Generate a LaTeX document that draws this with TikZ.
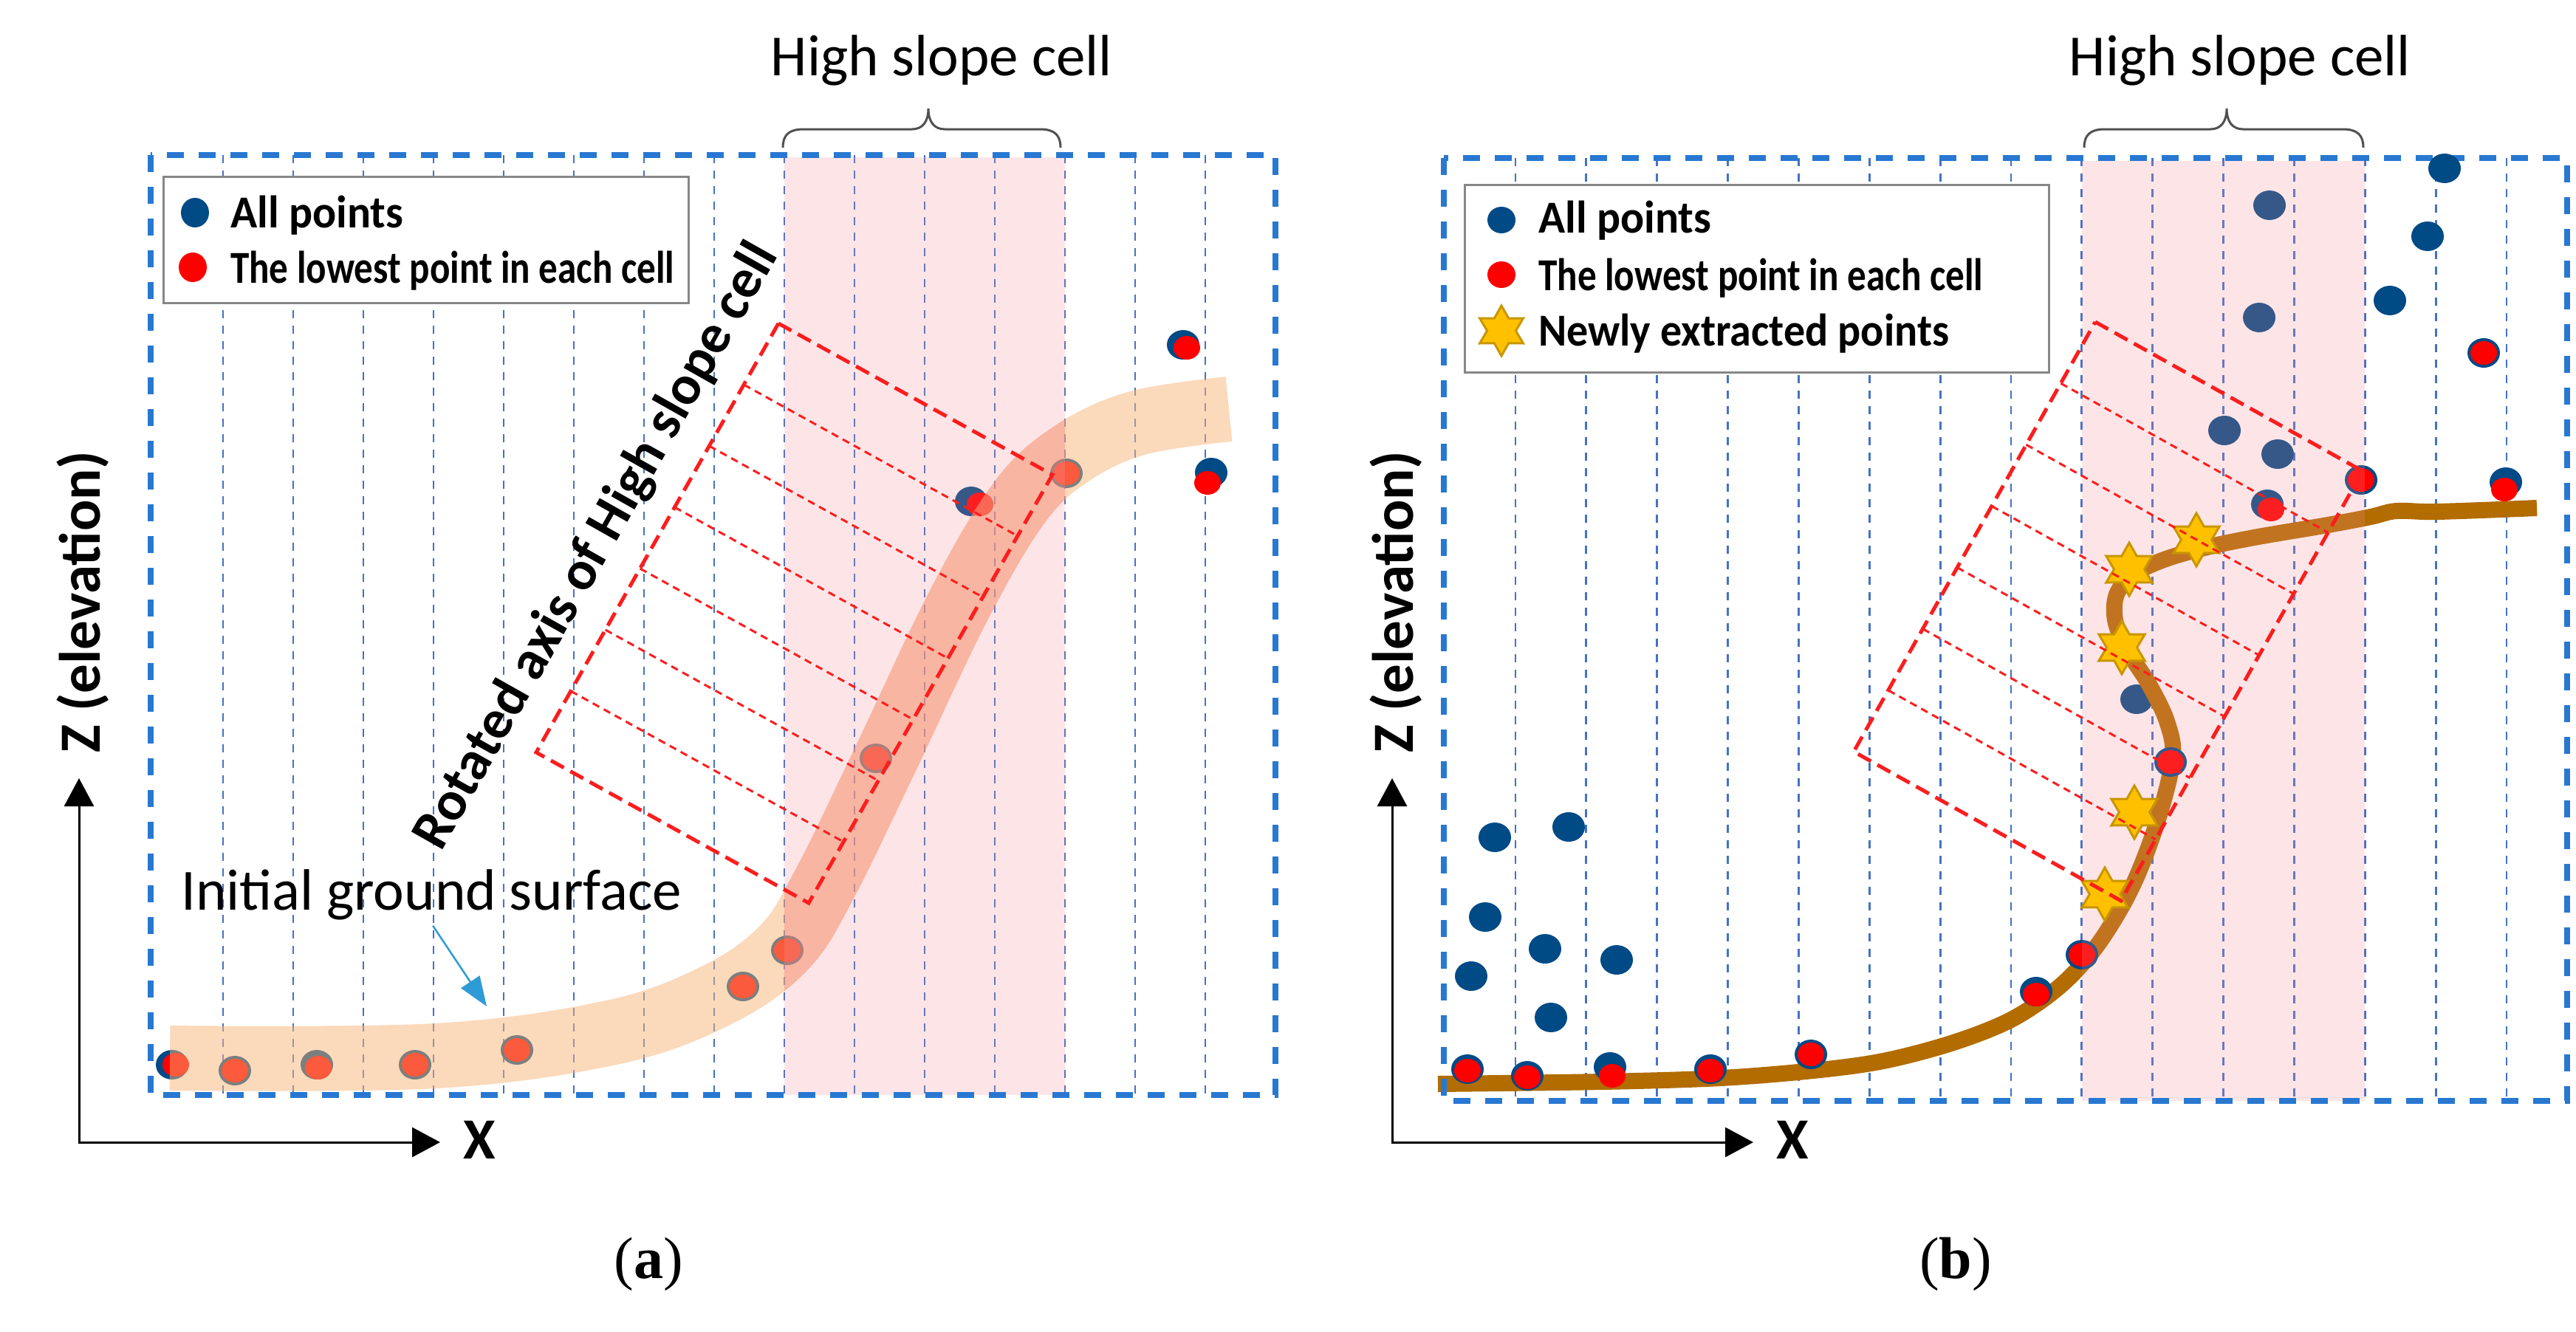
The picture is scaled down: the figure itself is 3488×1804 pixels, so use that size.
\documentclass[tikz,border=0pt]{standalone}
\usepackage{fontspec}
\usepackage{graphicx}
\setmainfont{Carlito}
\newfontfamily\capfont{Liberation Serif}
\usetikzlibrary{arrows.meta,shapes.geometric,calc}

\definecolor{boxblue}{RGB}{40,120,210}
\definecolor{lineblue}{RGB}{68,114,196}
\definecolor{pinkc}{RGB}{250,140,150}
\definecolor{ptblue}{RGB}{0,74,134}
\definecolor{ptred}{RGB}{255,0,0}
\definecolor{bandc}{RGB}{249,180,120}
\definecolor{salmonc}{RGB}{240,110,95}
\definecolor{brownc}{RGB}{178,108,0}
\definecolor{starfill}{RGB}{255,192,0}
\definecolor{stardraw}{RGB}{200,150,0}
\definecolor{rectred}{RGB}{250,30,30}
\definecolor{arrowblue}{RGB}{46,155,214}
\definecolor{bracec}{RGB}{80,80,80}
\definecolor{leggray}{RGB}{135,135,135}

\tikzset{
  cellline/.style={lineblue, line width=2.8pt, dash pattern=on 11pt off 10pt},
  boxline/.style={boxblue, line width=8pt, dash pattern=on 23pt off 20pt},
  pinkarea/.style={fill=pinkc, fill opacity=0.22},
  rectthick/.style={rectred, line width=5pt, dash pattern=on 20pt off 10pt},
  rectthin/.style={rectred, line width=3pt, dash pattern=on 10pt off 7pt},
  bandline/.style={bandc, opacity=0.5, line width=88pt, line cap=butt, line join=round},
  bandtint/.style={salmonc, opacity=0.22, line width=88pt, line cap=butt, line join=round},
  curveline/.style={brownc, line width=22pt, line cap=butt, line join=round},
  axisline/.style={black, line width=3pt, arrows={Triangle[length=38pt,width=40pt]-Triangle[length=38pt,width=40pt]}},
  garrow/.style={arrowblue, line width=2.5pt, -{Triangle[length=40pt,width=30pt]}},
  bracel/.style={draw=bracec, line width=3pt},
  legbox/.style={draw=leggray, line width=3pt, fill=white},
  newpt/.style={star, star points=6, star point ratio=1.75, minimum size=72pt, inner sep=0pt, fill=starfill, draw=stardraw, line width=3pt},
  plain/.style={inner sep=0pt, font=\fontsize{79}{95}\selectfont},
  boldlbl/.style={inner sep=0pt, font=\bfseries\fontsize{79}{95}\selectfont},
  legtxt/.style={inner sep=0pt, anchor=base west, font=\bfseries\fontsize{62}{70}\selectfont},
  captxt/.style={inner sep=0pt, font=\capfont\fontsize{80}{96}\selectfont}
}

\newcommand{\bluedot}[2]{\fill[ptblue] (#1,#2) ellipse [x radius=22pt, y radius=20pt];}
\newcommand{\lowdot}[4]{\fill[ptblue] (#1,#2) ellipse [x radius=22pt, y radius=20pt];
  \fill[ptred] ({#1+(#3)},{#2+(#4)}) ellipse [x radius=18pt, y radius=16pt];}
\newcommand{\hbrace}[3]{\draw[bracel] (#1,200) .. controls (#1,183) and (#1+8,175) .. (#1+28,175) -- (#2-22,175) .. controls (#2-8,175) and (#2,165) .. (#2,147) .. controls (#2,165) and (#2+8,175) .. (#2+22,175) -- (#3-28,175) .. controls (#3-8,175) and (#3,183) .. (#3,200);}
\newcommand{\bandpath}{plot[smooth, tension=0.6] coordinates {(230,1433) (590,1430) (830,1398) (970,1348) (1060,1285) (1115,1200) (1198,1030) (1298,820) (1380,681) (1450,615) (1540,573) (1664,554)}}

\begin{document}
\begin{tikzpicture}[x=1pt, y=-1pt]
\useasboundingbox (0,0) rectangle (3488,1804);
\fill[white] (0,0) rectangle (3488,1804);

% ================= PANEL (a) =================
\foreach \i in {1,...,15} \draw[cellline] ({207+95*\i},210) -- ({207+95*\i},1483);

% points
\lowdot{233}{1442}{5}{0}
\lowdot{318}{1450}{0}{0}
\lowdot{429}{1442}{2}{4}
\lowdot{562}{1442}{0}{0}
\lowdot{700}{1422}{0}{0}
\lowdot{1006}{1336}{0}{0}
\lowdot{1066}{1287}{0}{0}
\lowdot{1186}{1027}{0}{0}
\lowdot{1315}{679}{12}{4}
\lowdot{1444}{641}{0}{0}
\lowdot{1602}{467}{5}{4}
\lowdot{1640}{640}{-5}{14}

% initial ground surface band
\draw[bandline] \bandpath;
\begin{scope}
  \clip (1062,213) rectangle (1442,1483);
  \draw[bandtint] \bandpath;
\end{scope}

% high slope cells
\fill[pinkarea] (1062,213) rectangle (1442,1483);

% rotated cell
\coordinate (aT) at (1054,438);
\coordinate (aR) at (1425,643);
\coordinate (aB) at (1095,1223);
\coordinate (aL) at (726,1019);
\foreach \k in {1,...,6} \draw[rectthin] ($(aT)!\k/7!(aL)$) -- ($(aR)!\k/7!(aB)$);
\draw[rectthick] (aT) -- (aR) -- (aB) -- (aL) -- cycle;

\draw[boxline] (204,210) rectangle (1727,1483);

% legend (a)
\draw[legbox] (221,239) rectangle (932,410);
\fill[ptblue] (264,288) ellipse [x radius=19pt, y radius=20pt];
\fill[ptred] (261,362) ellipse [x radius=19pt, y radius=20pt];
\node[legtxt] (la1) at (312,308) {\resizebox{234pt}{\height}{All points}};
\node[legtxt] (la2) at (312,383) {\resizebox{601pt}{\height}{The lowest point in each cell}};

% brace and labels
\hbrace{1060}{1257}{1436}
\node[plain, anchor=base] (hsa) at (1275,102) {High slope cell};
\node[boldlbl, anchor=base, rotate=60.56, font=\bfseries\fontsize{75}{90}\selectfont] (rot) at (826,750) {Rotated axis of High slope cell};
\node[plain, anchor=base west] (igs) at (245,1232) {Initial ground surface};
\coordinate (igtip) at (659,1363);
\draw[garrow] ($(igs.south)+(2,8)$) -- (igtip);

% axes (a)
\coordinate (aO) at (107,1547);
\coordinate (aZ) at (107,1054);
\coordinate (aX) at (596,1547);
\draw[axisline] (aZ) -- (aO) -- (aX);
\node[boldlbl, rotate=90] (za) at (112,815) {Z (elevation)};
\node[boldlbl] (xa) at (649,1544) {X};
\node[captxt] (capa) at (878,1712) {(\textbf{a})};

% ================= PANEL (b) =================
\foreach \i in {1,...,15} \draw[cellline] ({1956.1+95.86*\i},214) -- ({1956.1+95.86*\i},1491);

% all points
\bluedot{3073}{278}
\bluedot{3287}{320}
\bluedot{3236}{407}
\bluedot{3059}{430}
\bluedot{3012}{583}
\bluedot{3084}{615}
\bluedot{2893}{947}
\bluedot{2024}{1134}
\bluedot{2124}{1120}
\bluedot{2011}{1242}
\bluedot{2092}{1285}
\bluedot{1992}{1322}
\bluedot{2189}{1300}
\bluedot{2100}{1378}

% ground curve
\draw[curveline] plot[smooth, tension=0.55] coordinates {(1947,1468) (2170,1465) (2330,1460) (2455,1450) (2550,1437) (2645,1412) (2725,1380) (2790,1335) (2840,1280) (2886,1203) (2921,1113) (2942,1027) (2934,977) (2910,927) (2880,880) (2864,840) (2866,805) (2888,778) (2930,758) (2985,742) (3052,728) (3152,711) (3210,700) (3245,692) (3300,693) (3435,688)};

% lowest points
\lowdot{1987}{1448}{0}{2}
\lowdot{2068}{1457}{0}{2}
\lowdot{2180}{1445}{3}{12}
\lowdot{2316}{1448}{0}{2}
\lowdot{2452}{1428}{0}{0}
\lowdot{2757}{1343}{0}{4}
\lowdot{2819}{1293}{0}{0}
\lowdot{2939}{1032}{0}{0}
\lowdot{3070}{683}{5}{7}
\lowdot{3197}{650}{0}{0}
\lowdot{3393}{653}{-2}{10}
\lowdot{3363}{478}{0}{0}

\fill[pinkarea] (2819,218) rectangle (3202,1491);

% newly extracted points
\node[newpt] (s1) at (2974,731) {};
\node[newpt] (s2) at (2883,771) {};
\node[newpt] (s3) at (2873,877) {};
\node[newpt] (s4) at (2890,1100) {};
\node[newpt] (s5) at (2850,1211) {};

% rotated cell (b)
\coordinate (bT) at (2837,436);
\coordinate (bR) at (3199,638);
\coordinate (bB) at (2872,1220);
\coordinate (bL) at (2510,1018);
\foreach \k in {1,...,6} \draw[rectthin] ($(bT)!\k/7!(bL)$) -- ($(bR)!\k/7!(bB)$);
\draw[rectthick] (bT) -- (bR) -- (bB) -- (bL) -- cycle;

\draw[boxline] (1955,214) rectangle (3476,1491);
\bluedot{3310}{228}

% legend (b)
\draw[legbox] (1983,250) rectangle (2774,504);
\fill[ptblue] (2033,298) ellipse [x radius=19pt, y radius=18pt];
\fill[ptred] (2033,372) ellipse [x radius=19pt, y radius=18pt];
\node[newpt, minimum size=68pt] (ls) at (2033,448) {};
\node[legtxt] (lb1) at (2083,315) {\resizebox{234pt}{\height}{All points}};
\node[legtxt] (lb2) at (2083,393) {\resizebox{602pt}{\height}{The lowest point in each cell}};
\node[legtxt] (lb3) at (2083,468) {\resizebox{556pt}{\height}{Newly extracted points}};

\hbrace{2822}{3015}{3200}
\node[plain, anchor=base] (hsb) at (3033,102) {High slope cell};

% axes (b)
\coordinate (bO) at (1885,1547);
\coordinate (bZ) at (1885,1054);
\coordinate (bX) at (2374,1547);
\draw[axisline] (bZ) -- (bO) -- (bX);
\node[boldlbl, rotate=90] (zb) at (1890,815) {Z (elevation)};
\node[boldlbl] (xb) at (2427,1544) {X};
\node[captxt] (capb) at (2648,1712) {(\textbf{b})};
\end{tikzpicture}
\end{document}
